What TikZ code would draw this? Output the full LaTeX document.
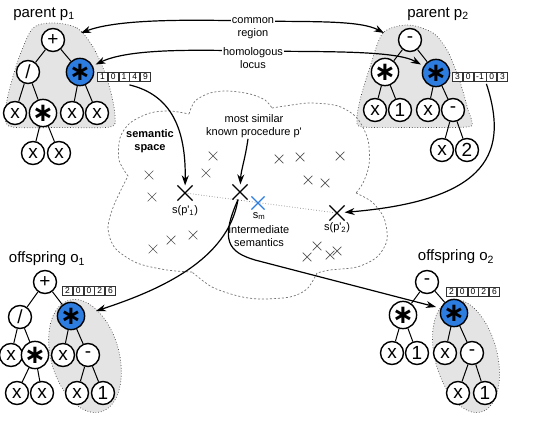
\documentclass[tikz,border=0pt]{standalone}
\usepackage{fontspec}
\setmainfont{Liberation Sans}
\newfontfamily\symfont{DejaVu Sans}
\usetikzlibrary{arrows.meta,shapes.misc}
\definecolor{nodeblue}{RGB}{45,125,225}
\definecolor{regiongray}{RGB}{228,228,228}
\definecolor{xgray}{RGB}{85,85,85}
\newcommand{\opstar}{{\symfont\bfseries\fontsize{26}{26}\selectfont ∗}}
\begin{document}
\begin{tikzpicture}[x=1pt,y=-1pt,
  tn/.style={circle,draw,line width=1.4pt,fill=white,minimum size=23pt,inner sep=0pt,font=\fontsize{19}{19}\selectfont},
  bn/.style={tn,fill=nodeblue},
  edge/.style={line width=1pt},
  region/.style={fill=regiongray,draw=black!75,dotted,line width=0.7pt},
  arr/.style={line width=1.2pt,-{Stealth[length=10pt,width=7pt]}},
  darr/.style={line width=1.2pt,{Stealth[length=10pt,width=7pt]}-{Stealth[length=10pt,width=7pt]}},
  lbl/.style={font=\fontsize{15}{15}\selectfont},
  slbl/.style={font=\fontsize{11}{13}\selectfont,align=center,inner sep=1pt},
  cell/.style={draw=black!80,fill=white,line width=0.8pt,minimum width=10pt,minimum height=9pt,inner sep=0pt,font=\fontsize{8.5}{8.5}\selectfont},
  smx/.style={cross out,draw=xgray,line width=0.7pt,minimum size=8pt,inner sep=0pt},
  bigx/.style={cross out,draw=black,line width=1.2pt,minimum size=14pt,inner sep=0pt},
  cloud/.style={draw=black!55,line width=0.7pt,dash pattern=on 2pt off 2pt},
  link/.style={draw=black!50,line width=0.7pt,dotted}
]
\useasboundingbox (0,0) rectangle (534,430);

% ---------- gray regions ----------
\draw[region] plot[smooth cycle] coordinates {(53,23) (77,28) (93,47) (105,73) (112,97) (115,117) (110,127) (60,127.5) (12,127) (5,117) (7,100) (12,80) (20,55) (33,28)};
\draw[region] plot[smooth cycle] coordinates {(408,25) (433,33) (447,50) (457,73) (464,95) (468,110) (472,122) (467,127) (415,127.5) (363,127) (357,120) (360,100) (370,67) (383,33)};
\draw[region,rotate around={16:(85,356)}] (85,356) ellipse [x radius=34,y radius=58];
\draw[region,rotate around={15:(466,356)}] (466,356) ellipse [x radius=31,y radius=58];

% ---------- parent p1 ----------
\node[lbl] (lp1) at (44,14) {parent p\textsubscript{1}};
\node[tn] (p1r) at (53,40) {+};
\node[tn] (p1a) at (28,72) {/};
\node[bn] (p1b) at (80,72) {\opstar};
\node[tn] (p1c) at (15,113) {x};
\node[tn] (p1d) at (43,113) {\opstar};
\node[tn] (p1e) at (72,113) {x};
\node[tn] (p1f) at (97,113) {x};
\node[tn] (p1g) at (33,153) {x};
\node[tn] (p1h) at (59,153) {x};
\draw[edge] (p1r)--(p1a) (p1r)--(p1b) (p1a)--(p1c) (p1a)--(p1d) (p1b)--(p1e) (p1b)--(p1f) (p1d)--(p1g) (p1d)--(p1h);

% ---------- parent p2 ----------
\node[lbl] (lp2) at (438,14) {parent p\textsubscript{2}};
\node[tn] (p2r) at (410,40) {-};
\node[tn] (p2a) at (385,72) {\opstar};
\node[bn] (p2b) at (436,73) {\opstar};
\node[tn] (p2c) at (375,110) {x};
\node[tn] (p2d) at (400,110) {1};
\node[tn] (p2e) at (428,110) {x};
\node[tn] (p2f) at (453,110) {-};
\node[tn] (p2g) at (442,150) {x};
\node[tn] (p2h) at (467,150) {2};
\draw[edge] (p2r)--(p2a) (p2r)--(p2b) (p2a)--(p2c) (p2a)--(p2d) (p2b)--(p2e) (p2b)--(p2f) (p2f)--(p2g) (p2f)--(p2h);

% ---------- offspring o1 ----------
\node[lbl] (lo1) at (47,259) {offspring o\textsubscript{1}};
\node[tn] (o1r) at (45,282) {+};
\node[tn] (o1a) at (20,317) {/};
\node[bn] (o1b) at (71,316) {\opstar};
\node[tn] (o1c) at (11,355) {x};
\node[tn] (o1d) at (35,355) {\opstar};
\node[tn] (o1e) at (63,355) {x};
\node[tn] (o1f) at (88,355) {-};
\node[tn] (o1g) at (17,393) {x};
\node[tn] (o1h) at (42,393) {x};
\node[tn] (o1i) at (77,393) {x};
\node[tn] (o1j) at (103,393) {1};
\draw[edge] (o1r)--(o1a) (o1r)--(o1b) (o1a)--(o1c) (o1a)--(o1d) (o1d)--(o1g) (o1d)--(o1h) (o1b)--(o1e) (o1b)--(o1f) (o1f)--(o1i) (o1f)--(o1j);

% ---------- offspring o2 ----------
\node[lbl] (lo2) at (456,257) {offspring o\textsubscript{2}};
\node[tn] (o2r) at (427,282) {-};
\node[tn] (o2a) at (403,315) {\opstar};
\node[bn] (o2b) at (454,313) {\opstar};
\node[tn] (o2c) at (392,353) {x};
\node[tn] (o2d) at (417,353) {1};
\node[tn] (o2e) at (445,353) {x};
\node[tn] (o2f) at (472,353) {-};
\node[tn] (o2g) at (458,393) {x};
\node[tn] (o2h) at (485,393) {1};
\draw[edge] (o2r)--(o2a) (o2r)--(o2b) (o2a)--(o2c) (o2a)--(o2d) (o2b)--(o2e) (o2b)--(o2f) (o2f)--(o2g) (o2f)--(o2h);

% ---------- semantic arrays ----------
\node[cell,anchor=west] (a1a) at (97,77) {1};
\node[cell,anchor=west] (a1b) at (a1a.east) {0};
\node[cell,anchor=west] (a1c) at (a1b.east) {1};
\node[cell,anchor=west] (a1d) at (a1c.east) {4};
\node[cell,anchor=west] (a1e) at (a1d.east) {9};

\node[cell,anchor=west] (a2a) at (452,77) {3};
\node[cell,anchor=west] (a2b) at (a2a.east) {0};
\node[cell,anchor=west,minimum width=12pt] (a2c) at (a2b.east) {-1};
\node[cell,anchor=west] (a2d) at (a2c.east) {0};
\node[cell,anchor=west] (a2e) at (a2d.east) {3};

\node[cell,anchor=west] (a3a) at (62,291) {2};
\node[cell,anchor=west] (a3b) at (a3a.east) {0};
\node[cell,anchor=west] (a3c) at (a3b.east) {0};
\node[cell,anchor=west] (a3d) at (a3c.east) {2};
\node[cell,anchor=west] (a3e) at (a3d.east) {6};

\node[cell,anchor=west] (a4a) at (446,292) {2};
\node[cell,anchor=west] (a4b) at (a4a.east) {0};
\node[cell,anchor=west] (a4c) at (a4b.east) {0};
\node[cell,anchor=west] (a4d) at (a4c.east) {2};
\node[cell,anchor=west] (a4e) at (a4d.east) {6};

% ---------- semantic space cloud ----------
\draw[cloud]
  plot[smooth] coordinates {(128,176) (119,160) (120,138) (130,123) (150,113) (170,111) (189,114)}
  plot[smooth] coordinates {(189,114) (195,101) (210,93) (228,91) (250,94) (265,100) (272,108)}
  plot[smooth] coordinates {(272,108) (285,106) (310,103) (338,106) (357,118) (368,140) (369,165) (363,183) (356,193)}
  plot[smooth] coordinates {(356,193) (372,202) (384,218) (387,240) (377,257) (357,267) (330,270) (317,273)}
  plot[smooth] coordinates {(317,273) (307,289) (290,297) (260,299) (238,296) (212,287) (192,272)}
  plot[smooth] coordinates {(192,272) (167,270) (137,263) (115,248) (108,228) (114,205) (128,176)};

\node[slbl,font=\fontsize{11}{13}\selectfont\bfseries] (ss) at (150,141) {semantic\\space};

% small crosses
\foreach \i/\p in {1/{(213,156)},2/{(206,173)},3/{(149,175)},4/{(152,197)},5/{(279,159)},6/{(300,157)},7/{(340,156)},8/{(308,180)},9/{(325,183)},10/{(193,235)},11/{(171,240)},12/{(153,249)},13/{(317,246)},14/{(307,257)},15/{(330,255)},16/{(337,251)}}
  \node[smx] (sx\i) at \p {};

% key points
\draw[link] (185,193) -- (337,213);
\node[bigx] (sp1) at (185,193) {};
\node[bigx] (spp) at (240,192) {};
\node[bigx,draw=nodeblue,minimum size=12pt] (sm) at (258,203) {};
\node[bigx] (sp2) at (337,213) {};

\node[slbl] (lsp1) at (185,211) {s(p\textquotesingle\textsubscript{1})};
\node[slbl] (lsm) at (259,216) {s\textsubscript{m}};
\node[slbl] (lint) at (259,236) {intermediate\\semantics};
\node[slbl] (lsp2) at (337,228) {s(p\textquotesingle\textsubscript{2})};
\node[slbl] (lmsk) at (254,126) {most similar\\known procedure p\textquotesingle};

% ---------- arrows ----------
\coordinate (c1l) at (81,33);
\coordinate (c1r) at (384,33);
\draw[darr] (c1l) .. controls (120,18) and (200,20) .. (253,21) .. controls (310,22) and (360,20) .. (c1r);
\node[slbl,fill=white] (lcr) at (253,28) {common\\region};
\draw[darr,shorten <=3pt,shorten >=3pt] (p1b) .. controls (130,48) and (200,50) .. (253,51) .. controls (320,52) and (395,50) .. (p2b);
\node[slbl,fill=white] (lhl) at (253,58) {homologous\\locus};

\draw[arr] ([yshift=-3pt]a1c.south east) .. controls (172,95) and (186,130) .. (sp1);
\draw[arr] ([yshift=-2pt]a2c.south east) .. controls (508,150) and (492,200) .. (sp2);
\draw[arr] ([xshift=-6pt]lmsk.south) .. controls (245,160) and (241,170) .. (spp);

\coordinate (o1tip) at (96,311);
\coordinate (o2tip) at (436,307);
\draw[arr] ([xshift=-2pt]spp.south) .. controls (228,260) and (160,290) .. (o1tip);
\draw[arr] ([xshift=-2pt]spp.south) .. controls (220,240) and (228,252) .. (255,260) -- (o2tip);
\end{tikzpicture}
\end{document}
